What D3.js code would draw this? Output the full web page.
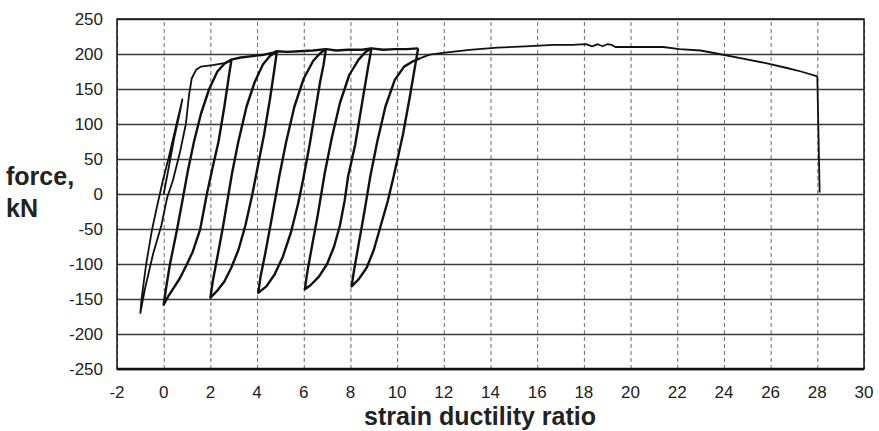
<!DOCTYPE html>
<html>
<head>
<meta charset="utf-8">
<script src="https://cdnjs.cloudflare.com/ajax/libs/d3/7.8.5/d3.min.js"></script>
<style>
	body { margin: 0; background: #fff; }
	svg text { font-family: Arial, "Liberation Sans", sans-serif; fill: #222; }
</style>
</head>
<body>
<svg id="chart" width="879" height="431"></svg>
<script>
// tick values
const xTicks = [-2, 0, 2, 4, 6, 8, 10, 12, 14, 16, 18, 20, 22, 24, 26, 28, 30];
const yTicks = [-250, -200, -150, -100, -50, 0, 50, 100, 150, 200, 250];

// first elastic cycles and first yield plateau [ductility, kN]
const initialLoading = [
	[0, 0], [0.2, 35], [0.45, 80], [0.65, 110], [0.8, 135],
	[0.55, 100], [0.2, 50], [-0.03, 20], [-0.3, -20], [-0.5, -51], [-0.75, -100], [-0.95, -150], [-1.0, -170],
	[-0.8, -135], [-0.45, -85], [-0.1, -45], [0.15, -5], [0.4, 20], [0.7, 60], [0.95, 100], [1.08, 140],
	[1.2, 165], [1.4, 178], [1.6, 182], [2.1, 184], [2.6, 187], [2.9, 191]
];

// hysteresis cycles: unloading from peak, reloading from cusp, envelope to next peak
const cycle0 = [
	[2.9, 191], [2.8, 170], [2.6, 125], [2.35, 75], [2.07, 34], [1.85, 0], [1.56, -51], [1.25, -82], [1.0, -100],
	[0.7, -120], [0.45, -133], [0.2, -146], [0, -158],
	[0.1, -135], [0.27, -100], [0.57, -51], [0.8, -10], [1.04, 34], [1.3, 75], [1.6, 115], [1.95, 150], [2.3, 175],
	[2.6, 186], [2.9, 192],
	[3.3, 195], [3.8, 197], [4.3, 199], [4.7, 202], [4.85, 204]
];
const cycle2 = [
	[4.85, 204], [4.75, 180], [4.55, 135], [4.3, 85], [4.0, 34], [3.8, 0], [3.5, -45], [3.2, -80], [2.9, -105],
	[2.6, -125], [2.3, -138], [2.0, -148],
	[2.1, -125], [2.3, -90], [2.55, -45], [2.93, 30], [3.2, 75], [3.55, 125], [3.9, 160], [4.25, 185], [4.55, 197], [4.85, 204],
	[5.3, 203], [5.8, 204], [6.4, 205], [6.95, 207]
];
const cycle4 = [
	[6.95, 207], [6.85, 185], [6.7, 160], [6.5, 120], [6.25, 70], [5.97, 20], [5.75, -15], [5.45, -55], [5.1, -90],
	[4.75, -115], [4.4, -132], [4.05, -141],
	[4.15, -118], [4.35, -85], [4.6, -40], [4.95, 25], [5.25, 75], [5.6, 125], [6.0, 165], [6.4, 190], [6.7, 201], [6.95, 207],
	[7.4, 205], [7.9, 206], [8.5, 206], [8.9, 208]
];
const cycle6 = [
	[8.9, 208], [8.75, 180], [8.5, 130], [8.2, 70], [7.9, 25], [7.75, -10], [7.55, -45], [7.3, -75], [7.0, -100],
	[6.65, -118], [6.3, -130], [6.05, -136],
	[6.15, -112], [6.35, -75], [6.6, -30], [6.9, 30], [7.2, 80], [7.55, 130], [7.95, 170], [8.35, 192], [8.65, 203], [8.9, 208],
	[9.4, 206], [9.9, 207], [10.4, 207], [10.9, 208]
];
const cycle8 = [
	[10.9, 208], [10.78, 185], [10.55, 140], [10.25, 85], [9.85, 25], [9.6, -10], [9.3, -45], [9.0, -80], [8.7, -105],
	[8.35, -122], [8.05, -132],
	[8.15, -110], [8.35, -72], [8.6, -25], [8.85, 25], [9.15, 75], [9.5, 125], [9.9, 163], [10.3, 182], [10.7, 190], [11.0, 194]
];
const cycles = [cycle0, cycle2, cycle4, cycle6, cycle8];

// monotonic envelope after the last cycle, then fracture
const finalEnvelope = [
	[11.0, 194], [11.4, 199], [12.05, 202], [13.1, 206], [14.3, 209], [15.5, 211], [16.7, 213], [17.5, 213],
	[18.1, 214], [18.35, 211], [18.6, 214], [18.8, 211], [19.0, 214], [19.2, 213], [19.35, 210], [20.5, 210],
	[21.4, 210], [22.1, 207], [23.0, 205], [23.8, 200], [24.7, 194], [25.8, 187], [26.7, 180], [27.3, 175],
	[28.0, 168], [28.1, 2]
];

(function() {
	window.addEventListener("load", init);

	function init() {
		let svg = d3.select("#chart");
		let left = 117, right = 864, top = 19, bottom = 369;

		let x = d3.scaleLinear().domain([-2, 30]).range([left, right]);
		let y = d3.scaleLinear().domain([-250, 250]).range([bottom, top]);

		// vertical dashed grid
		svg.append("g")
			.attr("transform", "translate(0," + bottom + ")")
			.call(d3.axisBottom(x).tickValues(xTicks).tickSize(-(bottom - top)).tickFormat(""))
			.call(g => g.select(".domain").remove())
			.selectAll("line")
			.attr("stroke", "#6a6a6a")
			.attr("stroke-width", 1)
			.attr("stroke-dasharray", "4,3");

		// horizontal solid grid
		svg.append("g")
			.attr("transform", "translate(" + left + ",0)")
			.call(d3.axisLeft(y).tickValues(yTicks).tickSize(-(right - left)).tickFormat(""))
			.call(g => g.select(".domain").remove())
			.selectAll("line")
			.attr("stroke", "#3a3a3a")
			.attr("stroke-width", 1.3);

		// frame
		svg.append("rect")
			.attr("x", left).attr("y", top)
			.attr("width", right - left).attr("height", bottom - top)
			.attr("fill", "none")
			.attr("stroke", "#111")
			.attr("stroke-width", 1.5);
		svg.append("line")
			.attr("x1", left).attr("x2", right)
			.attr("y1", bottom).attr("y2", bottom)
			.attr("stroke", "#111").attr("stroke-width", 2.5);

		// tick labels
		svg.append("g")
			.selectAll("text")
			.data(yTicks)
			.enter()
			.append("text")
			.attr("x", 103)
			.attr("y", d => y(d))
			.attr("dy", "0.36em")
			.attr("text-anchor", "end")
			.style("font-size", "17px")
			.text(d => String(d));

		svg.append("g")
			.selectAll("text")
			.data(xTicks)
			.enter()
			.append("text")
			.attr("x", d => x(d))
			.attr("y", 398)
			.attr("text-anchor", "middle")
			.style("font-size", "17px")
			.text(d => String(d));

		// axis titles
		svg.append("text")
			.attr("x", 6).attr("y", 185)
			.style("font-size", "25px").style("font-weight", "bold")
			.text("force,");
		svg.append("text")
			.attr("x", 6).attr("y", 217)
			.style("font-size", "25px").style("font-weight", "bold")
			.text("kN");
		svg.append("text")
			.attr("x", 480).attr("y", 425)
			.attr("text-anchor", "middle")
			.style("font-size", "25px").style("font-weight", "bold")
			.text("strain ductility ratio");

		let line = d3.line()
			.x(d => x(d[0]))
			.y(d => y(d[1]));

		svg.append("path")
			.datum(initialLoading)
			.attr("d", line)
			.attr("fill", "none")
			.attr("stroke", "#111")
			.attr("stroke-width", 1.8)
			.attr("stroke-linejoin", "round");

		svg.selectAll(".cycle")
			.data(cycles)
			.enter()
			.append("path")
			.attr("class", "cycle")
			.attr("d", line)
			.attr("fill", "none")
			.attr("stroke", "#111")
			.attr("stroke-width", 2.4)
			.attr("stroke-linejoin", "round");

		svg.append("path")
			.datum(finalEnvelope)
			.attr("d", line)
			.attr("fill", "none")
			.attr("stroke", "#111")
			.attr("stroke-width", 1.8)
			.attr("stroke-linejoin", "round");
	}
})();
</script>
</body>
</html>
